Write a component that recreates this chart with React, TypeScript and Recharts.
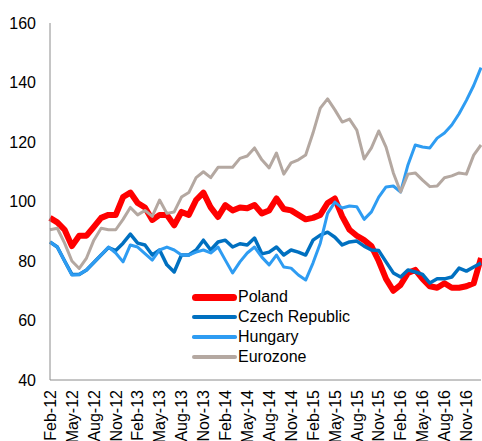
import { LineChart, Line, XAxis, YAxis } from "recharts";

const months = [
  "Feb-12", "Mar-12", "Apr-12", "May-12", "Jun-12", "Jul-12", "Aug-12", "Sep-12", "Oct-12", "Nov-12", "Dec-12", "Jan-13",
  "Feb-13", "Mar-13", "Apr-13", "May-13", "Jun-13", "Jul-13", "Aug-13", "Sep-13", "Oct-13", "Nov-13", "Dec-13", "Jan-14",
  "Feb-14", "Mar-14", "Apr-14", "May-14", "Jun-14", "Jul-14", "Aug-14", "Sep-14", "Oct-14", "Nov-14", "Dec-14", "Jan-15",
  "Feb-15", "Mar-15", "Apr-15", "May-15", "Jun-15", "Jul-15", "Aug-15", "Sep-15", "Oct-15", "Nov-15", "Dec-15", "Jan-16",
  "Feb-16", "Mar-16", "Apr-16", "May-16", "Jun-16", "Jul-16", "Aug-16", "Sep-16", "Oct-16", "Nov-16", "Dec-16", "Jan-17",
];

const tickLabels = [
  "Feb-12", "May-12", "Aug-12", "Nov-12", "Feb-13", "May-13", "Aug-13", "Nov-13", "Feb-14", "May-14",
  "Aug-14", "Nov-14", "Feb-15", "May-15", "Aug-15", "Nov-15", "Feb-16", "May-16", "Aug-16", "Nov-16",
];

const yTicks = [40, 60, 80, 100, 120, 140, 160];

const poland = [
  94.5, 93, 90.5, 85, 88.5, 88.5, 91.5, 94.5, 95.5, 95.5, 101.5, 103,
  99.5, 98, 93.8, 95.5, 95.5, 92, 96.5, 95.5, 100.5, 103, 98, 94.8,
  98.8, 97, 98, 97.7, 98.8, 96, 97, 101, 97.5, 97, 95.5, 94,
  94.5, 95.5, 99.5, 101, 95, 90.5, 88.5, 87, 85, 80, 74, 70,
  72, 76, 77, 74, 71.5, 71, 72.5, 71, 71, 71.5, 72.5, 81,
];

const czech = [
  86.4, 84.7, 80, 75.5, 75.5, 77, 79.5, 82, 84.5, 83.5, 86, 89,
  86, 85.4, 82, 83.7, 78.7, 76.3, 82, 82, 83.7, 87, 83.7, 86.4,
  87, 84.7, 85.8, 85.4, 87.7, 82.4, 83, 84.7, 82, 83.7, 83, 82,
  87, 88.7, 89.7, 88, 85.4, 86.4, 86.7, 85, 83.7, 83.5, 79.7, 76,
  74.6, 77, 76.3, 75.5, 72.6, 74, 74, 74.6, 77.6, 76.6, 78, 79.3,
];

const hungary = [
  86.4, 84.7, 80, 75.3, 75.5, 77, 79.5, 82, 84.7, 82.7, 79.7, 85.4,
  84.7, 82.5, 80.3, 83.7, 84.7, 83.7, 82, 82, 83, 83.7, 82.7, 84.7,
  80.3, 76, 79.7, 82.7, 84.7, 81.3, 78.7, 82, 78, 77.6, 75.3, 73.6,
  79.3, 86, 96, 99.8, 97.8, 98.5, 98.2, 94, 96.5, 101.5, 104.9, 105.2,
  103.2, 112.3, 119, 118.3, 118, 121.3, 123, 125.7, 129.5, 134, 139, 145,
];

const eurozone = [
  90.5, 91, 86, 80, 77.5, 81, 87, 91, 90.5, 90.5, 94, 98,
  95.5, 97, 95, 100.5, 96, 96.5, 101.5, 103, 108, 110, 108, 111.5,
  111.5, 111.5, 114.5, 115.3, 118, 114, 111.3, 116.3, 109.2, 113, 114, 115.6,
  123, 131.4, 134.5, 130.8, 126.7, 127.7, 124, 114.3, 118, 123.7, 118.3, 109.6,
  103.2, 109.2, 109.6, 107.2, 105, 105.2, 108, 108.6, 109.6, 109.2, 115.6, 119,
];

const FONT = "'Liberation Sans', Arial, sans-serif";
const AXIS_COLOR = "#8c8c8c";

const SERIES = [
  { key: "poland", name: "Poland", color: "#ff0000", width: 6, legendWidth: 7 },
  { key: "czech", name: "Czech Republic", color: "#0070c0", width: 3.5, legendWidth: 4 },
  { key: "hungary", name: "Hungary", color: "#2e9cf2", width: 3, legendWidth: 3.5 },
  { key: "eurozone", name: "Eurozone", color: "#b4a8a1", width: 3, legendWidth: 4 },
];

const data = months.map((month, i) => ({
  month,
  poland: poland[i],
  czech: czech[i],
  hungary: hungary[i],
  eurozone: eurozone[i],
}));

function MonthTick(props: any) {
  const { x, y, payload } = props;
  return (
    <g transform={`translate(${x},${y})`}>
      <text
        transform="rotate(-90)"
        x={0}
        y={0}
        dy="0.36em"
        textAnchor="end"
        fill="#000"
        fontSize={16}
        fontFamily={FONT}
      >
        {payload.value}
      </text>
    </g>
  );
}

export default function App() {
  return (
    <div
      style={{
        position: "absolute",
        left: 0,
        top: 0,
        width: 482,
        height: 441,
        background: "#fff",
        fontFamily: FONT,
      }}
    >
      <LineChart
        width={482}
        height={441}
        data={data}
        margin={{ top: 23, right: 1, bottom: 0, left: 0 }}
      >
        <XAxis
          dataKey="month"
          ticks={tickLabels}
          interval={0}
          height={61}
          stroke={AXIS_COLOR}
          tickLine={false}
          tickSize={0}
          tickMargin={10}
          tick={<MonthTick />}
        />
        <YAxis
          domain={[40, 160]}
          ticks={yTicks}
          width={50}
          stroke={AXIS_COLOR}
          tickLine={false}
          tickSize={0}
          tickMargin={14}
          tick={{ fill: "#000", fontSize: 16, fontFamily: FONT }}
        />
        {SERIES.map((s) => (
          <Line
            key={s.key}
            type="linear"
            dataKey={s.key}
            name={s.name}
            stroke={s.color}
            strokeWidth={s.width}
            strokeLinejoin="round"
            dot={false}
            activeDot={false}
            isAnimationActive={false}
          />
        ))}
      </LineChart>

      {/* legend sits inside the plot, lower middle */}
      <div style={{ position: "absolute", left: 192, top: 287 }}>
        {SERIES.map((s) => (
          <div
            key={s.key}
            style={{ display: "flex", alignItems: "center", height: 20 }}
          >
            <span
              style={{
                display: "inline-block",
                width: 45,
                height: s.legendWidth,
                borderRadius: s.legendWidth / 2,
                backgroundColor: s.color,
                marginRight: 1,
              }}
            />
            <span style={{ fontSize: 16, color: "#000", lineHeight: "20px" }}>
              {s.name}
            </span>
          </div>
        ))}
      </div>
    </div>
  );
}
